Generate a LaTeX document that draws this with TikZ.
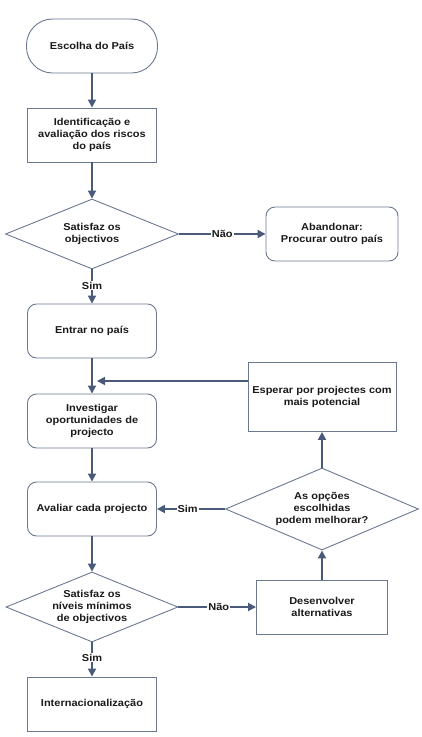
\documentclass[tikz,border=0pt]{standalone}
\usepackage{fontspec}
\setmainfont{Liberation Sans}[FakeStretch=1.1]
\usetikzlibrary{shapes.geometric,arrows.meta,positioning}
\definecolor{linecol}{HTML}{4A5A7A}
\definecolor{edgecol}{HTML}{6A7890}
\definecolor{txtcol}{HTML}{1A1A1A}
\begin{document}
\begin{tikzpicture}[x=1pt,y=-1pt,
    every node/.style={font=\bfseries\fontsize{10}{12}\selectfont,text=txtcol,align=center},
    box/.style={draw=edgecol,line width=0.9pt,minimum width=129pt,minimum height=54pt,inner sep=2pt},
    rbox/.style={box,rounded corners=9pt},
    choice/.style={diamond,draw=edgecol,line width=0.9pt,aspect=2.5,inner sep=-4pt},
    flow/.style={draw=linecol,line width=1.8pt,-{Triangle[length=8pt,width=8pt]}},
    tag/.style={fill=white,inner sep=1pt}]
\useasboundingbox (0,0) rectangle (421,737);
% main column
\node[box,rounded corners=26pt,minimum width=131pt] (pais) at (92,46) {Escolha do País};
\node[box] (riscos) at (92,135) {Identificação e\\avaliação dos riscos\\do país};
\node[choice,minimum width=173pt,minimum height=70pt] (obj) at (92,234) {Satisfaz os\\objectivos};
\node[rbox,minimum width=132pt] (aband) at (332,234) {Abandonar:\\Procurar outro país};
\node[rbox] (entrar) at (92,331) {Entrar no país};
\node[rbox] (invest) at (92,421) {Investigar\\oportunidades de\\projecto};
\node[rbox] (aval) at (92,509) {Avaliar cada projecto};
\node[choice,minimum width=172pt,minimum height=70pt] (niveis) at (92,607) {Satisfaz os\\níveis mínimos\\de objectivos};
\node[box] (inter) at (92,704) {Internacionalização};
% right column
\node[box,minimum width=148pt,minimum height=69pt] (esperar) at (322,397) {Esperar por projectes com\\mais potencial};
\node[choice,minimum width=193pt,minimum height=82pt] (melhor) at (322,509) {As opções\\escolhidas\\podem melhorar?};
\node[box,minimum width=131pt] (desenv) at (322,607) {Desenvolver\\alternativas};
\coordinate (junta) at (97,381);
% connectors
\draw[flow] (pais) -- (riscos);
\draw[flow] (riscos) -- (obj);
\draw[flow] (obj) -- node[tag]{Não} (aband);
\draw[flow] (obj) -- node[tag,pos=0.48]{Sim} (entrar);
\draw[flow] (entrar) -- (invest);
\draw[flow] (esperar.west |- junta) -- (junta);
\draw[flow] (invest) -- (aval);
\draw[flow] (aval) -- (niveis);
\draw[flow] (niveis) -- node[tag,pos=0.44]{Sim} (inter);
\draw[flow] (niveis) -- node[tag,pos=0.52]{Não} (desenv);
\draw[flow] (desenv) -- (melhor);
\draw[flow] (melhor) -- (esperar);
\draw[flow] (melhor) -- node[tag,pos=0.55]{Sim} (aval);
\end{tikzpicture}
\end{document}
